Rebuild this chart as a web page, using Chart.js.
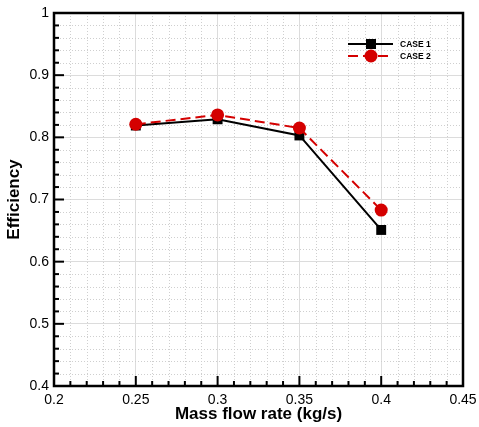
<!DOCTYPE html>
<html>
<head>
<meta charset="utf-8">
<script src="https://cdn.jsdelivr.net/npm/chart.js@4.4.1/dist/chart.umd.min.js"></script>
<style>
  html, body { margin: 0; padding: 0; background: #fff; }
  #wrap { width: 479px; height: 427px; }
</style>
</head>
<body>
<div id="wrap"><canvas id="effChart"></canvas></div>
<script>
// Data
const massFlow = [0.25, 0.30, 0.35, 0.40];
const case1Eff = [0.819, 0.829, 0.803, 0.651];
const case2Eff = [0.821, 0.836, 0.815, 0.683];
const seriesNames = ['CASE 1', 'CASE 2'];

const RED = '#d40000';
const FONT = "'Liberation Sans', Arial, sans-serif";

Chart.defaults.font.family = FONT;
Chart.defaults.color = '#000';

// Tecplot-ish frame: minor dotted grid, inward ticks, heavy border, in-plot legend
const frameDeco = {
    id: 'frameDeco',
    beforeDatasetsDraw(chart) {
        const { ctx, chartArea: a, scales: { x, y } } = chart;
        ctx.save();
        // minor dotted grid
        ctx.strokeStyle = '#cfcfcf';
        ctx.lineWidth = 1;
        ctx.setLineDash([1, 2]);
        for (let v = 0.21; v < 0.45; v += 0.01) {
            if (Math.abs(v * 20 - Math.round(v * 20)) < 1e-6) continue;
            const px = Math.round(x.getPixelForValue(v)) + 0.5;
            ctx.beginPath(); ctx.moveTo(px, a.top); ctx.lineTo(px, a.bottom); ctx.stroke();
        }
        for (let v = 0.42; v < 1; v += 0.02) {
            if (Math.abs(v * 10 - Math.round(v * 10)) < 1e-6) continue;
            const py = Math.round(y.getPixelForValue(v)) + 0.5;
            ctx.beginPath(); ctx.moveTo(a.left, py); ctx.lineTo(a.right, py); ctx.stroke();
        }
        ctx.restore();
    },
    afterDatasetsDraw(chart) {
        const { ctx, chartArea: a, scales: { x, y } } = chart;
        ctx.save();
        ctx.strokeStyle = '#000';
        ctx.lineWidth = 2;
        // bottom ticks
        for (let i = 0; i <= 25; i++) {
            const v = 0.2 + i * 0.01;
            const px = x.getPixelForValue(v);
            const len = i % 5 === 0 ? 10 : 5;
            ctx.beginPath(); ctx.moveTo(px, a.bottom); ctx.lineTo(px, a.bottom - len); ctx.stroke();
        }
        // left ticks
        for (let i = 0; i <= 30; i++) {
            const v = 0.4 + i * 0.02;
            const py = y.getPixelForValue(v);
            const len = i % 5 === 0 ? 10 : 5;
            ctx.beginPath(); ctx.moveTo(a.left, py); ctx.lineTo(a.left + len, py); ctx.stroke();
        }
        // border
        ctx.lineWidth = 2.5;
        ctx.strokeRect(a.left, a.top, a.right - a.left, a.bottom - a.top);

        // legend
        const lx0 = 348, lx1 = 393, mx = 371, tx = 400;
        const rows = [44, 56];
        chart.data.datasets.forEach((ds, i) => {
            const ly = rows[i];
            ctx.strokeStyle = ds.borderColor;
            ctx.lineWidth = ds.borderWidth;
            ctx.setLineDash(ds.borderDash || []);
            ctx.beginPath(); ctx.moveTo(lx0, ly); ctx.lineTo(lx1, ly); ctx.stroke();
            ctx.setLineDash([]);
            ctx.fillStyle = ds.pointBackgroundColor;
            if (ds.pointStyle === 'rect') {
                ctx.fillRect(mx - 5, ly - 5, 10, 10);
            } else {
                ctx.beginPath(); ctx.arc(mx, ly, 6.5, 0, Math.PI * 2); ctx.fill();
            }
            ctx.fillStyle = '#000';
            ctx.font = 'bold 8.5px ' + FONT;
            ctx.textBaseline = 'middle';
            ctx.fillText(ds.label, tx, ly + 0.5);
        });
        ctx.restore();
    }
};

new Chart(document.getElementById('effChart'), {
    type: 'line',
    data: {
        datasets: [
            {
                label: seriesNames[0],
                data: massFlow.map((m, i) => ({ x: m, y: case1Eff[i] })),
                borderColor: '#000',
                borderWidth: 2,
                pointStyle: 'rect',
                pointRadius: 7,
                pointBackgroundColor: '#000',
                pointBorderWidth: 0,
                tension: 0,
                order: 2
            },
            {
                label: seriesNames[1],
                data: massFlow.map((m, i) => ({ x: m, y: case2Eff[i] })),
                borderColor: RED,
                borderWidth: 2,
                borderDash: [10, 5],
                pointStyle: 'circle',
                pointRadius: 6.5,
                pointBackgroundColor: RED,
                pointBorderWidth: 0,
                tension: 0,
                order: 1
            }
        ]
    },
    options: {
        responsive: true,
        maintainAspectRatio: false,
        animation: false,
        layout: { padding: { left: 0, top: 13, right: 16, bottom: 0 } },
        plugins: { legend: { display: false }, tooltip: { enabled: false } },
        scales: {
            x: {
                type: 'linear',
                min: 0.2, max: 0.45,
                afterFit: s => { s.height = 41; s.paddingLeft = 0; s.paddingRight = 0; },
                border: { display: false },
                grid: { color: '#dcdcdc', lineWidth: 1, drawTicks: false },
                ticks: {
                    stepSize: 0.05, padding: 6,
                    font: { size: 14 },
                    callback: v => String(+v.toFixed(2))
                },
                title: {
                    display: true, text: 'Mass flow rate (kg/s)',
                    font: { size: 17, weight: 'bold' }, padding: { top: 2, bottom: 2 }
                }
            },
            y: {
                type: 'linear',
                min: 0.4, max: 1,
                afterFit: s => { s.width = 54; s.paddingTop = 0; s.paddingBottom = 0; },
                border: { display: false },
                grid: { color: '#dcdcdc', lineWidth: 1, drawTicks: false },
                ticks: {
                    stepSize: 0.1, padding: 5,
                    font: { size: 14 },
                    callback: v => String(+v.toFixed(1))
                },
                title: {
                    display: true, text: 'Efficiency',
                    font: { size: 17, weight: 'bold' }, padding: { top: 4, bottom: 4 }
                }
            }
        }
    },
    plugins: [frameDeco]
});
</script>
</body>
</html>
